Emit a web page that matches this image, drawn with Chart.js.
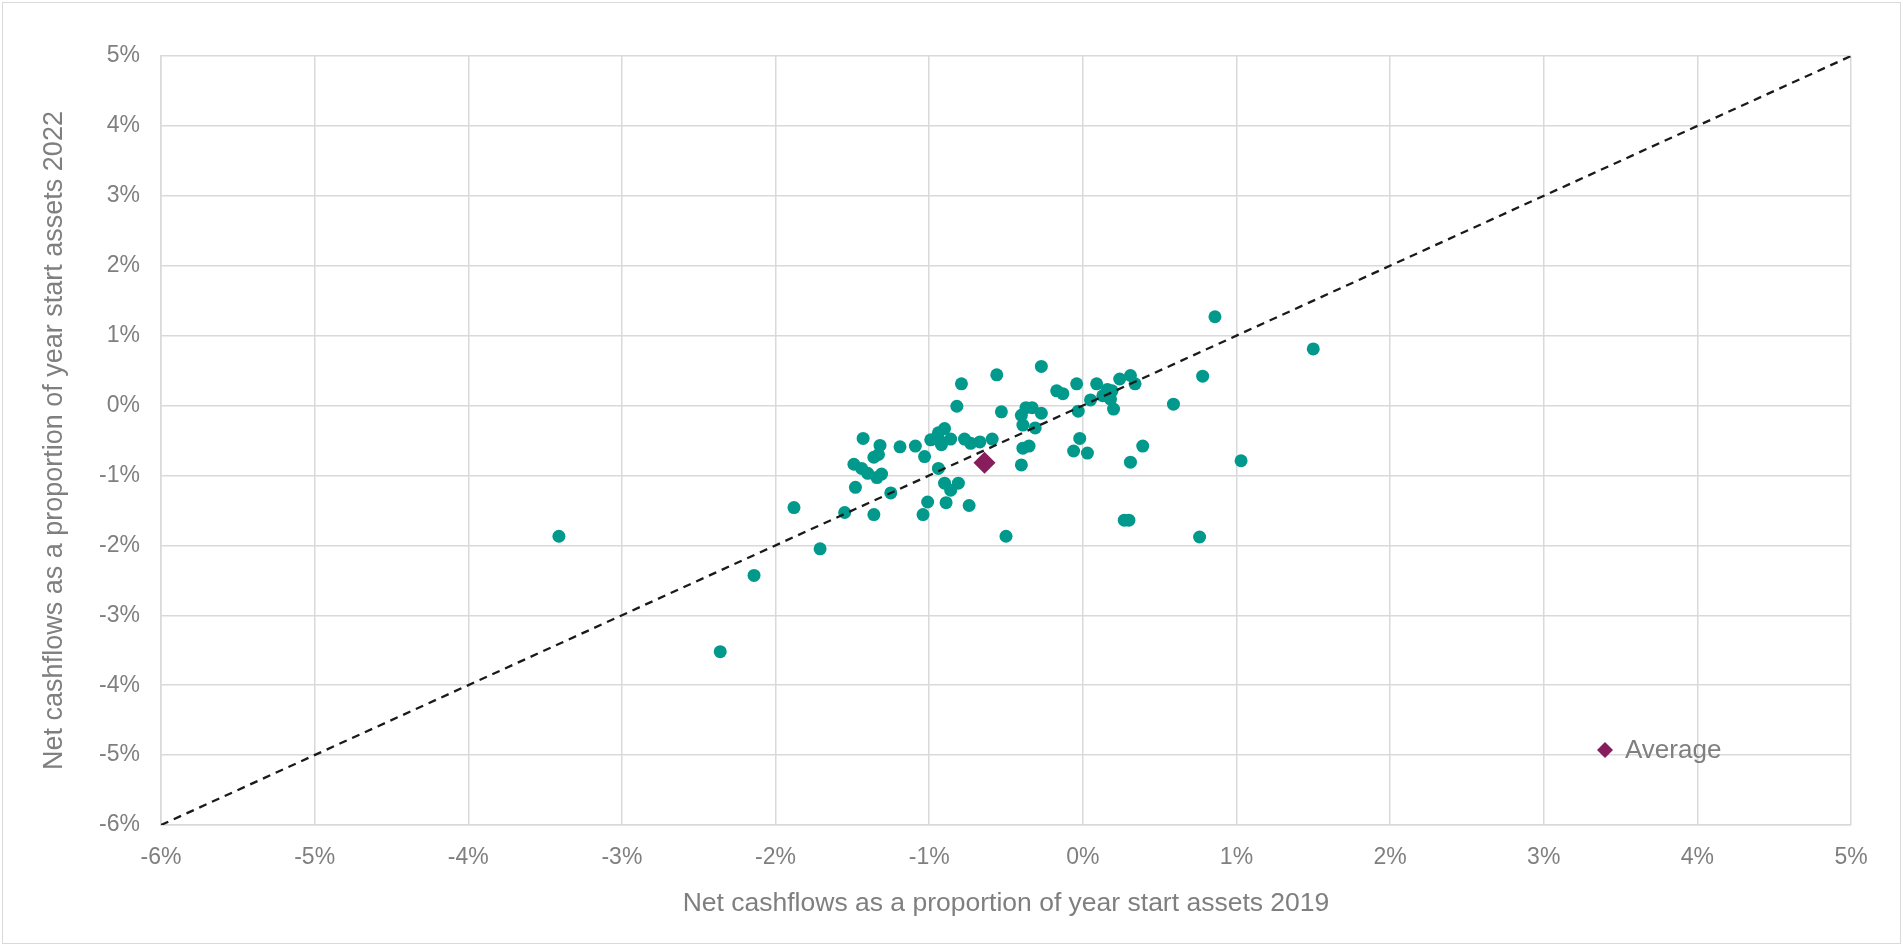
<!DOCTYPE html>
<html>
<head>
<meta charset="utf-8">
<script src="https://cdn.jsdelivr.net/npm/chart.js@4"></script>
<style>
    html, body { margin: 0; padding: 0; background: #ffffff; }
    #wrap {
        position: absolute; left: 0; top: 0;
        width: 1903px; height: 946px;
    }
    #frame {
        position: absolute; left: 2px; top: 2px;
        width: 1897px; height: 940px;
        border: 1px solid #d9d9d9;
        pointer-events: none;
    }
</style>
</head>
<body>
<div id="wrap">
    <canvas id="scatter-chart" width="1903" height="946"></canvas>
    <div id="frame"></div>
</div>
<script>
// Net cashflows / year start assets, in %, one entry per scheme
const cashflow2019 = [
    -3.41, -2.36, -2.14, -1.88, -1.71, -1.55, -1.48, -1.43, -1.49, -1.44,
    -1.40, -1.34, -1.31, -1.36, -1.36, -1.33, -1.32, -1.25, -1.19, -1.09,
    -1.03, -1.04, -1.01, -0.99, -0.94, -0.90, -0.93, -0.86, -0.92, -0.94,
    -0.90, -0.86, -0.81, -0.89, -0.74, -0.50, -0.79, -0.82, -0.77, -0.73,
    -0.67, -0.59, -0.56, -0.53, -0.27, -0.40, -0.37, -0.33, -0.27, -0.39,
    -0.31, -0.39, -0.35, -0.40, -0.17, -0.13, -0.04, -0.03, -0.02, -0.06,
     0.03,  0.05,  0.09,  0.16,  0.19,  0.13,  0.18,  0.20,  0.24,  0.31,
     0.34,  0.39,  0.31,  0.27,  0.30,  0.86,  1.50,  0.78,  0.59,  1.03,
     0.76
];
const cashflow2022 = [
    -1.87, -3.52, -2.43, -1.46, -2.05, -1.53, -1.17, -0.47, -0.84, -0.90,
    -0.97, -1.03, -0.98, -1.56, -0.74, -0.70, -0.57, -1.25, -0.59, -0.58,
    -0.73, -1.56, -1.38, -0.49, -0.39, -0.33, -0.51, -0.48, -0.56, -0.90,
    -1.11, -1.21, -1.11, -1.39, -1.43, -1.87,  0.31, -0.01, -0.48, -0.54,
    -0.52, -0.48,  0.44, -0.09,  0.56, -0.14, -0.03, -0.03, -0.11, -0.28,
    -0.32, -0.61, -0.58, -0.85,  0.21,  0.17,  0.31, -0.08, -0.47, -0.65,
    -0.68,  0.08,  0.31,  0.23,  0.21,  0.14,  0.09, -0.05,  0.38,  0.43,
     0.31, -0.58, -0.81, -1.64, -1.64,  1.27,  0.81,  0.42,  0.02, -0.79,
    -1.88
];

// Average point
const averageX = [-0.64];
const averageY = [-0.82];

// Axis range (%) and the y = x reference line
const axisMin = -6;
const axisMax = 5;
const diagonal = [axisMin, axisMax];

const teal = '#00998c';
const plum = '#871d5c';
const textGrey = '#7f7f7f';
const gridGrey = '#d9d9d9';

const toPoints = (xs, ys) => xs.map((x, i) => ({ x: x, y: ys[i] }));

// Legend (only "Average") drawn inside the plot area, bottom right
const averageLegend = {
    id: 'averageLegend',
    afterDatasetsDraw(chart) {
        const { ctx, chartArea } = chart;
        const ds = chart.data.datasets[0];
        const cx = chartArea.right - 246;
        const cy = chartArea.bottom - 75;
        const r = 8;
        ctx.save();
        ctx.fillStyle = ds.backgroundColor;
        ctx.beginPath();
        ctx.moveTo(cx - r, cy);
        ctx.lineTo(cx, cy - r);
        ctx.lineTo(cx + r, cy);
        ctx.lineTo(cx, cy + r);
        ctx.closePath();
        ctx.fill();
        ctx.fillStyle = textGrey;
        ctx.font = '26px "Liberation Sans", Arial, sans-serif';
        ctx.textBaseline = 'middle';
        ctx.fillText(ds.label, cx + 20, cy + 1);
        ctx.restore();
    }
};

const axisTicks = {
    stepSize: 1,
    color: textGrey,
    font: { family: '"Liberation Sans", Arial, sans-serif', size: 23 },
    callback: v => v + '%'
};

const ctx = document.getElementById('scatter-chart').getContext('2d');
new Chart(ctx, {
    type: 'scatter',
    data: {
        datasets: [
            {
                label: 'Average',
                data: toPoints(averageX, averageY),
                backgroundColor: plum,
                borderColor: plum,
                pointStyle: 'rectRot',
                pointRadius: 11,
                borderWidth: 0,
                order: 0
            },
            {
                label: 'y = x',
                type: 'line',
                data: toPoints(diagonal, diagonal),
                borderColor: '#1a1a1a',
                borderWidth: 2.3,
                borderDash: [8, 6],
                pointRadius: 0,
                fill: false,
                order: 1
            },
            {
                label: 'Schemes',
                data: toPoints(cashflow2019, cashflow2022),
                backgroundColor: teal,
                borderColor: teal,
                pointRadius: 6.5,
                borderWidth: 0,
                order: 2
            }
        ]
    },
    options: {
        responsive: false,
        animation: false,
        layout: { padding: { left: 0, right: 52, top: 56, bottom: 0 } },
        plugins: {
            legend: { display: false },
            tooltip: { enabled: false }
        },
        scales: {
            x: {
                type: 'linear',
                min: axisMin,
                max: axisMax,
                ticks: Object.assign({ padding: 19, maxRotation: 0 }, axisTicks),
                grid: { color: gridGrey, lineWidth: 1.5, drawTicks: false },
                border: { color: gridGrey, width: 1.5 },
                title: {
                    display: true,
                    text: 'Net cashflows as a proportion of year start assets 2019',
                    color: textGrey,
                    font: { family: '"Liberation Sans", Arial, sans-serif', size: 26.5 },
                    padding: { top: 0, bottom: 26 }
                },
                afterFit: scale => { scale.height = 121; }
            },
            y: {
                type: 'linear',
                min: axisMin,
                max: axisMax,
                ticks: Object.assign({ padding: 21 }, axisTicks),
                grid: { color: gridGrey, lineWidth: 1.5, drawTicks: false },
                border: { color: gridGrey, width: 1.5 },
                title: {
                    display: true,
                    text: 'Net cashflows as a proportion of year start assets 2022',
                    color: textGrey,
                    font: { family: '"Liberation Sans", Arial, sans-serif', size: 27 },
                    padding: { top: 38, bottom: 0 }
                },
                afterFit: scale => { scale.width = 161; }
            }
        }
    },
    plugins: [averageLegend]
});
</script>
</body>
</html>
